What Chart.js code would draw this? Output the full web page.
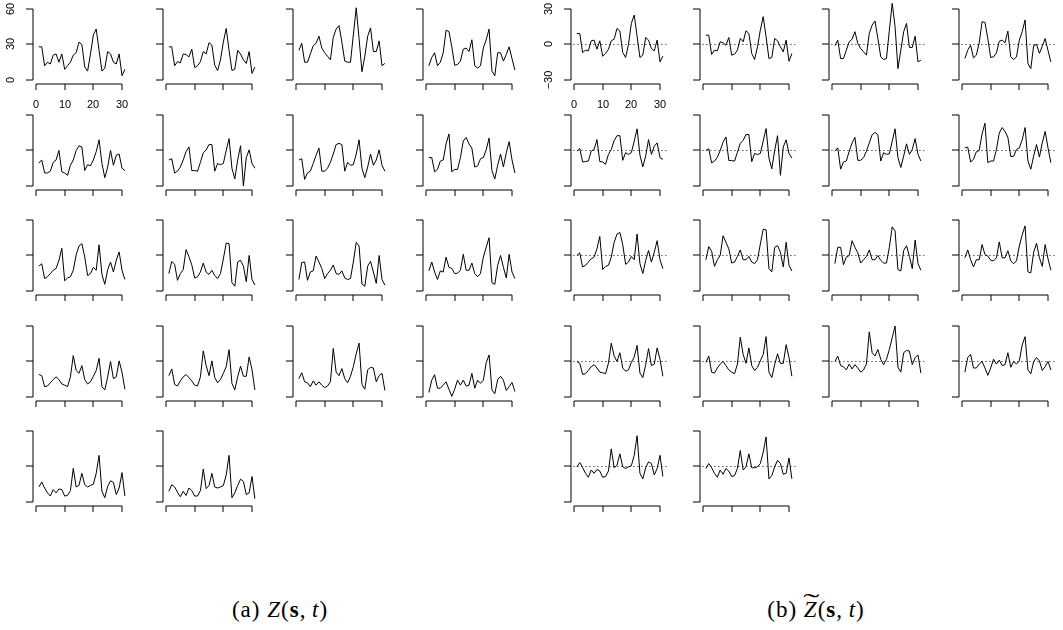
<!DOCTYPE html>
<html>
<head>
<meta charset="utf-8">
<script src="https://cdn.jsdelivr.net/npm/chart.js@4/dist/chart.umd.min.js"></script>
<style>
  html, body { margin: 0; padding: 0; background: #fff; }
  #wrap { position: relative; width: 1063px; height: 630px; overflow: hidden; background: #fff; }
  #wrap canvas { position: absolute; }
  .cap { position: absolute; top: 597px; width: 240px; text-align: center; line-height: 26px;
         font-family: "Liberation Serif", "DejaVu Serif", serif; font-size: 23px; letter-spacing: 1px; color: #000; }
  .cap b { font-weight: bold; }
  .tz { position: relative; font-style: italic; }
  .tl { position: absolute; left: 0.18em; top: -0.3em; font-style: normal; display: inline-block; transform: scaleX(2.1); }
</style>
</head>
<body>
<div id="wrap">
  <div class="cap" style="left:160px">(a) <i>Z</i>(<b>s</b>,&thinsp;<i>t</i>)</div>
  <div class="cap" style="left:696px">(b) <span class="tz">Z<span class="tl">&#732;</span></span>(<b>s</b>,&thinsp;<i>t</i>)</div>
</div>
<script>
// -------------------------
// DATA
// -------------------------
const days = [1,2,3,4,5,6,7,8,9,10,11,12,13,14,15,16,17,18,19,20,21,22,23,24,25,26,27,28,29,30,31];
const dayTicks = [0, 10, 20, 30];
const zTicks = [0, 30, 60];
const ztTicks = [-30, 0, 30];

// Z(s,t), one array per site
const z01 = [28,28,12,15,13.5,21,22,15,22,9,12,15,21,23,32,30,11,7.5,22,38,43,25,7.5,10,24,22,15,13.5,22,3.6,9];
const z02 = [28,28,12,15.5,14.5,22,21.5,19.5,26,10.5,12,15.5,24,22,31.5,29.5,12.5,8,17,32,43.5,25,8,9,25,22,17,14,24,5.5,11];
const z03 = [25,31,15,15,22,29,31,37,27,23,20,17,36,43,46,32,16,15,15,38,61,35,7,20,37,44,24,24,33,12,14];
const z04 = [12,19,23,12,15,23,42,41,28,12.5,13,16,26,27,24,34,12,10,12,27,34,43,7.5,3.6,23,23,16,21.5,28,18,8.4];
const z05 = [19.4,22,11,11,12.5,20,22,30,12,11,9,17.5,22,30,34,33,13,18,17,22,29,39,19,7,16,30,17.5,26,27,15,13];
const z06 = [22,23,11,12.5,16,22,29,33,13,13,12.5,20,28,30.5,35,35,12.5,19,18,19,30,40,15,6,22,34,0,24,30.5,19,15];
const z07 = [22,23,5.6,11,12.5,19,26,32,12.5,12.5,15,20,27,35,36,35,12.5,20,17.5,18,27,39,15,7,16,27,17.5,22,30.5,17.5,12.5];
const z08 = [24,24,12,14,21,22,35.5,44,12,14,14,24,38,41,35.5,32,16,17,23,24,30.5,40.5,13,6,17.5,27,16,28,37.5,22,11];
const z09 = [21,23,10.5,12,14.7,17.5,19,26,36,8.6,11,12,17.5,30.5,38,40,28.6,13,14.7,20,17.5,39,14,5.6,18,24.5,16,26,33,17.5,9.7];
const z10 = [14.7,25,22.5,9,14.7,18,35,29,22,11,12,16,23.6,16,14,17.5,13,10.5,14.7,27,40.5,40,7,4,24.5,26,21,7.8,30,9.7,5];
const z11 = [9.7,24,24.5,9,16,17,29.5,24.5,19,10.5,14.7,17.5,22,14.7,14,17,11,9.7,10.5,24.5,41,38,5.8,4,21,25,16,6.4,30,9.7,5];
const z12 = [17,24.5,16,9.7,17,16,28.6,20,19,14.7,15,17.5,31,17.5,17.5,23.6,14.7,12,14.7,28.6,37,45,7,5.6,21.7,30,20,11,31,16,10.5];
const z13 = [19,18,8.7,9.3,12,14.7,17,14.7,11,10,8.7,17,35,22.4,20,26.5,14.7,11,12.8,17.5,22.4,32.7,8.7,6,17,30,15.5,17,30.5,21,6.5];
const z14 = [18,23.7,10.6,9.3,13.6,17,19,16.4,13.6,10,9.3,17,39,26.5,18,30.5,16.4,12,14.7,20,25.6,40,11.5,6,17,26,17.5,17.5,33.8,23,6];
const z15 = [15.5,20.5,12.8,12,8.7,13.6,10,12.8,10,7.9,9.3,12.8,41,21,18,24,15.5,12,17.5,25.6,36.5,45.5,10.6,6.5,23,25,24.5,12.8,18,20,5.5];
const z16 = [3.8,14.2,18.8,7.4,7.4,10,12.8,6.5,0.5,6.5,14.2,10,14.2,9.3,10,20,7.4,14.2,11.5,14.2,29,35.5,6,2.7,14.7,17.5,14.2,5.5,8.7,12.3,4.6];
const z17 = [12.7,16.8,11.8,7.7,5,10.5,7.7,11,10.5,5,5.5,9.6,28.4,12.7,14,24.2,14.6,12.7,14,15,24.2,39.4,9,3.6,13.2,17.9,16.5,6.3,11.8,24.8,5];
const z18 = [9,14.6,12.7,8.3,4.4,9,5.5,11.8,9.6,5,5,9.6,27.8,11.3,13.8,24.2,12.7,11.8,12.7,13.8,22.8,39.4,3.6,7.7,14,19.3,17.3,6.3,7.7,21.5,2.8];

// Z~(s,t), one array per site
const zt01 = [9.3,9.3,-6.8,-4.8,-5.4,3.1,3.7,-4,3.1,-9.9,-7.6,-4.2,3.1,4.5,13.6,11.3,-6.8,-11,0,17.8,24.9,7,-11,-9,5.9,3.7,-3.4,-5.4,3.7,-14.7,-9.9];
const zt02 = [7.9,7.9,-8.5,-4.8,-5.4,2.3,1.4,-0.6,5.9,-9,-8.2,-4.8,5.1,2.3,11.6,9.3,-7.6,-12.7,-2,12.2,23.5,6.5,-11.9,-11,5.1,3.1,-2,-6.2,3.7,-14.2,-7.6];
const zt03 = [-1.1,3.7,-11.9,-11.9,-4.8,2.3,4.5,10.8,0.8,-3.4,-6.2,-9,9.3,16.4,19.8,5.1,-10.5,-12.7,-11.9,12,34.8,15,-20.4,-4.8,10.8,17.8,-2.5,-2.5,7,-14.7,-13.3];
const zt04 = [-11.9,-4.8,-0.6,-11.3,-9,1.4,19.2,18.7,5.1,-11,-10.5,-7.1,2.8,3.7,1.4,11.3,-10.5,-12.7,-10.5,3.7,10.8,20.7,-16.1,-20.4,-1,0,-7.5,-1.5,5,-5,-14.7];
const zt05 = [-0.6,1.7,-9.7,-9.4,-8.9,-0.6,0.8,9.2,-9.4,-9.7,-11.7,-3.3,0.8,8.3,12.5,12.5,-8.3,-1.9,-3.3,-1.9,7.8,18.3,-3.9,-13.9,-4.7,9.2,-3.3,3.6,6.4,-6.1,-7.5];
const zt06 = [0,1.5,-10.5,-9,-5.8,0,7,11.5,-8.5,-8.5,-9,-1.5,6,8.5,13.5,13.5,-9.5,-2.5,-3.5,-2.5,8,18.5,-6.5,-15.5,0,12.5,-21,3,9,-2.5,-6.5];
const zt07 = [-0.6,2.2,-15.8,-9.7,-8.9,-0.6,6.4,11.1,-8.3,-8.3,-6.1,-0.6,6.4,13.3,15.3,13.3,-8.9,-1.9,-3.3,-2.8,7.8,18.3,-6.1,-14.4,-4.7,5.6,-3.3,0.8,10,-3.3,-8.9];
const zt08 = [2.2,2.8,-9.7,-7.5,-1.1,0,13.9,23,-10.3,-8.9,-8.9,0.8,14.7,19.4,16.1,11.1,-5,-5,0.8,2.2,9,19.4,-8.9,-15.8,-4.7,5,-5.6,6.4,16.1,2.2,-10.3];
const zt09 = [0,2.2,-9.7,-8.3,-5.6,-2.8,-1.4,5.6,16.1,-11.9,-9.2,-8.3,-1.4,11.1,18.1,19.4,9.2,-7.5,-5.6,-0.8,-3.6,18.1,-6.9,-15.3,-4.2,4.2,-5.6,2.8,12.5,-3.6,-11.1];
const zt10 = [-3.6,7.5,3.6,-9.2,-3.6,0,16.7,11.1,5.6,-6.4,-5.6,-0.8,4.7,-3.6,-3.6,-0.8,-5.6,-6.9,-3.6,9.7,22.2,21.7,-11.1,-13.9,6.9,8.3,2.8,-9.7,11.1,-8.3,-13.1];
const zt11 = [-6.9,6.9,6.9,-7.8,-1.4,0,12.5,6.9,2.2,-6.4,-3.6,-0.8,4.7,-3.6,-3.6,0,-4.2,-6.4,-6.4,6.9,24.2,20.8,-11.9,-13.1,4.2,8.3,-0.8,-11.1,13.1,-6.9,-12.5];
const zt12 = [-1.9,4.7,-3.6,-9.7,-3.6,-3.6,9.2,0.8,-0.5,-4,-4.5,-2,11.5,-2,-2,4,-4.5,-7,-4.5,8,17.5,25,-13.9,-14.7,2.8,10.3,-1.9,-9.2,9.2,-2.8,-12.5];
const zt13 = [0,-1.4,-10.9,-10.4,-7.6,-4.4,-2.7,-5.5,-9,-9.5,-10.4,-1.6,15.5,4.6,0,7.4,-5.5,-8.2,-7.1,-0.8,3.8,13.6,-9.8,-13.6,-2.7,10.9,-3.5,-2.2,11.5,1.9,-12.5];
const zt14 = [-0.8,4.6,-9,-9.8,-5.5,-2.2,0,-3.5,-7.1,-9,-10.4,-2.2,20.5,6,-1.6,11.5,-3.5,-7.6,-4.9,0.5,6,21,-9,-13.6,-2.7,6.5,-1.6,-1.6,14.2,3.3,-12.5];
const zt15 = [0,4.6,-3.5,-4.4,-7.1,-2.2,-6.3,-2.7,-5.5,-9,-7.1,-2.2,25,7.4,4.6,10.1,1.9,-2.7,1.9,10.1,20,30,-4.9,-9,7.4,9.3,8.7,-2.7,3.3,5.5,-9.8];
const zt16 = [-9,3.3,6,-5.5,-5.5,-2.2,0,-5.5,-11.7,-5.5,1.9,-2.2,1.1,-3.5,-2.7,7.4,-4.9,0,-2.2,0.5,14,21,-7.1,-10.4,0,3.3,0.5,-7.6,-4.4,0,-7.1];
const zt17 = [-0.3,3.3,-0.8,-5.8,-9.1,-3,-5.8,-2.5,-3.9,-9.1,-8.5,-3.9,14.9,-1.1,1.1,10.7,-0.3,-1.7,-0.3,0.6,9.4,26,-5.8,-10.5,-1.1,3.9,2.5,-7.2,-1.7,9.4,-8.5];
const zt18 = [-1.7,2.5,-1.1,-5.8,-9.1,-3,-6.6,-1.7,-3.9,-8.5,-7.7,-1.7,13.5,-3,-0.3,10.7,-1.1,-1.1,-0.3,2.5,12.1,25,-10.5,-7.7,-0.3,5.2,2.5,-6.6,-5.8,7.2,-10.5];

const zSeries = [z01,z02,z03,z04,z05,z06,z07,z08,z09,z10,z11,z12,z13,z14,z15,z16,z17,z18];
const ztSeries = [zt01,zt02,zt03,zt04,zt05,zt06,zt07,zt08,zt09,zt10,zt11,zt12,zt13,zt14,zt15,zt16,zt17,zt18];

// -------------------------
// LAYOUT
// -------------------------
const LEFT_AXIS_X = [33, 163, 293, 423];
const RIGHT_AXIS_X = [571, 700, 829, 959];
const ROW_BOTTOM = [84, 190, 295, 401, 506];
const PLOT_W = 98, PLOT_H = 80;
const PAD = { left: 30, top: 6, right: 4, bottom: 26 };
const PX_X = 86 / 30;      // pixels per day
const PX_Y = 71 / 60;      // pixels per unit
const X_MIN = -1.05, X_MAX = X_MIN + PLOT_W / PX_X;

// R-style axes: line only between first and last tick, ticks outside
const rAxes = {
    id: "rAxes",
    afterDraw(chart) {
        const o = chart.options.plugins.rAxes;
        const { ctx, chartArea, scales } = chart;
        const ax = Math.round(chartArea.left);
        const by = Math.round(chartArea.bottom);
        const yt = o.yTicks.map(v => Math.round(scales.y.getPixelForValue(v)));
        const xt = o.xTicks.map(v => Math.round(scales.x.getPixelForValue(v)));
        ctx.save();
        ctx.strokeStyle = "#000";
        ctx.lineWidth = 1;
        ctx.beginPath();
        ctx.moveTo(ax, yt[0]); ctx.lineTo(ax, yt[yt.length - 1]);
        yt.forEach(p => { ctx.moveTo(ax, p); ctx.lineTo(ax - 7, p); });
        ctx.moveTo(xt[0], by); ctx.lineTo(xt[xt.length - 1], by);
        xt.forEach(p => { ctx.moveTo(p, by); ctx.lineTo(p, by + 6); });
        ctx.stroke();
        if (o.labels) {
            ctx.fillStyle = "#000";
            ctx.font = '11px "Liberation Sans", Arial, sans-serif';
            ctx.textAlign = "center";
            ctx.textBaseline = "middle";
            const fmt = v => v < 0 ? "\u2212" + Math.abs(v) : String(v);
            o.yTicks.forEach((v, i) => {
                ctx.save();
                ctx.translate(ax - 22, yt[i]);
                ctx.rotate(-Math.PI / 2);
                ctx.fillText(fmt(v), 0, 0);
                ctx.restore();
            });
            o.xTicks.forEach((v, i) => ctx.fillText(fmt(v), xt[i], by + 21));
        }
        ctx.restore();
    }
};

function makePanel(values, axisX, bottom, yMin, yTicks, labels, zeroLine) {
    const canvas = document.createElement("canvas");
    canvas.width = PAD.left + PLOT_W + PAD.right;
    canvas.height = PAD.top + PLOT_H + PAD.bottom;
    canvas.style.left = (axisX - PAD.left) + "px";
    canvas.style.top = (bottom - PLOT_H - PAD.top) + "px";
    document.getElementById("wrap").appendChild(canvas);

    const datasets = [{
        data: values.map((v, i) => ({ x: days[i], y: v })),
        borderColor: "#000",
        borderWidth: 1,
        clip: false
    }];
    if (zeroLine) {
        const ext = 0.04 * (days[days.length - 1] - days[0]);
        datasets.push({
            data: [{ x: days[0] - ext, y: 0 }, { x: days[days.length - 1] + ext, y: 0 }],
            borderColor: "#000",
            borderWidth: 1,
            borderDash: [1, 3],
            clip: false
        });
    }

    new Chart(canvas, {
        type: "line",
        data: { datasets },
        options: {
            responsive: false,
            animation: false,
            events: [],
            layout: { padding: PAD },
            elements: { point: { radius: 0 }, line: { tension: 0 } },
            scales: {
                x: { type: "linear", min: X_MIN, max: X_MAX, display: false },
                y: { type: "linear", min: yMin, max: yMin + PLOT_H / PX_Y, display: false }
            },
            plugins: {
                legend: { display: false },
                tooltip: { enabled: false },
                rAxes: { xTicks: dayTicks, yTicks: yTicks, labels: labels }
            }
        },
        plugins: [rAxes]
    });
}

zSeries.forEach((s, k) => {
    const r = Math.floor(k / 4), c = k % 4;
    makePanel(s, LEFT_AXIS_X[c], ROW_BOTTOM[r], -3.4, zTicks, k === 0, false);
});
ztSeries.forEach((s, k) => {
    const r = Math.floor(k / 4), c = k % 4;
    makePanel(s, RIGHT_AXIS_X[c], ROW_BOTTOM[r], -33.4, ztTicks, k === 0, true);
});
</script>
</body>
</html>
